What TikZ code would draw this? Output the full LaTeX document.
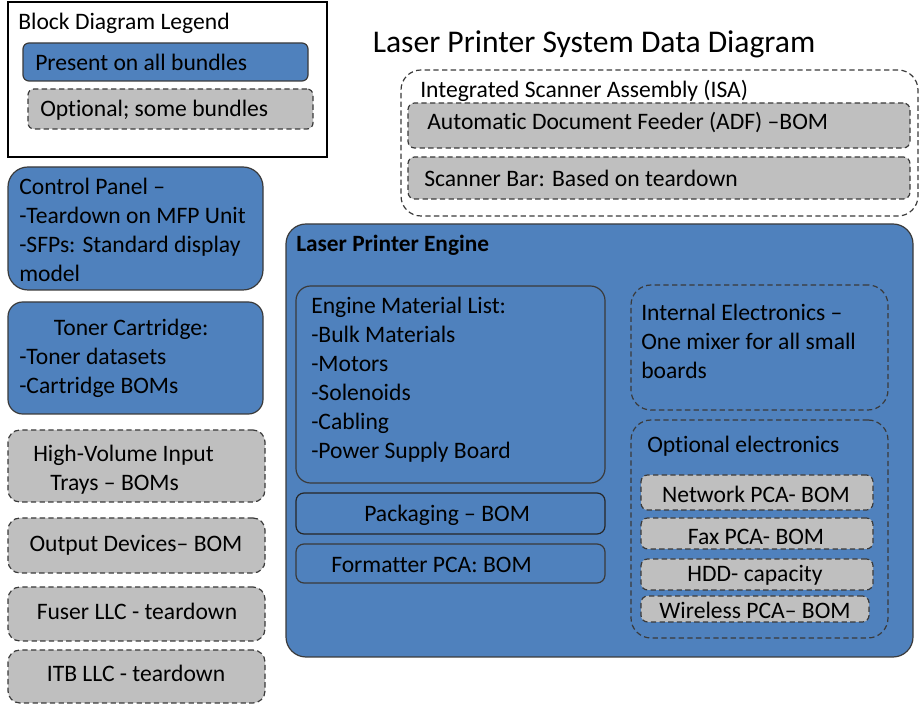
\documentclass[tikz,border=0pt]{standalone}
\usepackage{fontspec}
\setmainfont{Carlito}[Ligatures=NoCommon]
\usetikzlibrary{fit}
\definecolor{pblue}{HTML}{4F81BD}
\definecolor{pgray}{HTML}{BFBFBF}
\definecolor{pline}{HTML}{3A3A3A}
\begin{document}
\begin{tikzpicture}[x=0.75pt,y=-0.75pt,
  base/.style={inner sep=0pt, outer sep=0pt, line width=0.9pt, draw=pline},
  solidbox/.style={base, fill=pblue},
  optbox/.style={base, fill=pgray, dash pattern=on 4pt off 2.5pt},
  grpbox/.style={base, dash pattern=on 4pt off 2.5pt},
  txt/.style={inner sep=0pt, anchor=west, align=left, text=black,
    font=\fontsize{17.7}{21.75}\selectfont},
  ctxt/.style={txt, anchor=center, align=center}]
\useasboundingbox (0,0) rectangle (922,705);

% Legend
\node[base, draw=black, fit={(8,2) (327,157)}] (legend) {};
\node[txt] (legendtitle) at (18,23) {Block Diagram Legend};
\node[solidbox, rounded corners=4.5pt, fit={(23,43) (308,81)}] (legsolid) {};
\node[txt] (legsolidtxt) at (35,62) {Present on all bundles};
\node[optbox, rounded corners=4.5pt, fit={(28,89) (313,129)}] (legopt) {};
\node[txt] (legopttxt) at (40,110) {Optional; some bundles};

% Title
\node[ctxt, font=\fontsize{23.7}{28}\selectfont] (title) at (594,44) {Laser Printer System Data Diagram};

% ISA
\node[grpbox, rounded corners=15pt, fit={(401,70) (918,216)}] (isa) {};
\node[txt] (isalabel) at (420,91) {Integrated Scanner Assembly (ISA)};
\node[optbox, rounded corners=5pt, fit={(408,103) (910,148)}] (adf) {};
\node[txt] (adftxt) at (427,123) {Automatic Document Feeder (ADF) –BOM};
\node[optbox, rounded corners=5pt, fit={(408,157) (910,199)}] (sbar) {};
\node[txt] (sbartxt) at (424,178) {Scanner Bar: Based on teardown};

% Left column
\node[solidbox, rounded corners=15pt, fit={(8,167) (263,290)}] (cp) {};
\node[txt] (cptxt) at (19,230) {Control Panel –\\-Teardown on MFP Unit\\-SFPs: Standard display\\model};
\node[solidbox, rounded corners=11pt, fit={(8,302) (263,414)}] (toner) {};
\node[txt] (tonertxt) at (19,358) {\hspace*{26pt}Toner Cartridge:\\-Toner datasets\\-Cartridge BOMs};
\node[optbox, rounded corners=9pt, fit={(8,430) (265,502)}] (hvi) {};
\node[txt] (hvitxt) at (33,470) {High-Volume Input\\\hspace*{12.75pt}Trays – BOMs};
\node[optbox, rounded corners=9pt, fit={(8,518) (265,573)}] (outdev) {};
\node[ctxt] (outdevtxt) at (136,545) {Output Devices– BOM};
\node[optbox, rounded corners=9pt, fit={(8,587) (265,641)}] (fuser) {};
\node[ctxt] (fusertxt) at (137,611) {Fuser LLC - teardown};
\node[optbox, rounded corners=9pt, fit={(8,650) (265,703)}] (itb) {};
\node[ctxt] (itbtxt) at (136,673) {ITB LLC - teardown};

% Engine
\node[solidbox, rounded corners=15pt, fit={(286,224) (913,657)}] (engine) {};
\node[txt, font=\fontsize{17.5}{20}\selectfont\bfseries] (enginelabel) at (296,245) {Laser Printer Engine};
\node[solidbox, rounded corners=11pt, fit={(296,286) (605,483)}] (eml) {};
\node[txt] (emltxt) at (311,380) {Engine Material List:\\-Bulk Materials\\-Motors\\-Solenoids\\-Cabling\\-Power Supply Board};
\node[solidbox, draw=black!85, rounded corners=6pt, fit={(296,493) (605,534)}] (pack) {};
\node[txt] (packtxt) at (364,515) {Packaging – BOM};
\node[solidbox, rounded corners=6pt, fit={(296,544) (605,583)}] (fmt) {};
\node[txt] (fmttxt) at (331,565) {Formatter PCA: BOM};
\node[grpbox, rounded corners=15pt, fit={(631,285) (888,410)}] (intel) {};
\node[txt] (inteltxt) at (641,341) {Internal Electronics –\\One mixer for all small\\boards};
\node[grpbox, rounded corners=15pt, fit={(631,420) (888,638)}] (optel) {};
\node[txt] (opteltxt) at (647,446) {Optional electronics};
\node[optbox, rounded corners=5pt, fit={(641,475) (873,510)}] (net) {};
\node[ctxt] (nettxt) at (756,494) {Network PCA- BOM};
\node[optbox, rounded corners=5pt, fit={(641,518) (873,549)}] (fax) {};
\node[ctxt] (faxtxt) at (756,537) {Fax PCA- BOM};
\node[optbox, rounded corners=5pt, fit={(641,559) (873,590)}] (hdd) {};
\node[ctxt] (hddtxt) at (755,575) {HDD- capacity};
\node[optbox, rounded corners=5pt, fit={(641,596) (869,622)}] (wifi) {};
\node[ctxt] (wifitxt) at (755,610) {Wireless PCA– BOM};
\end{tikzpicture}
\end{document}
